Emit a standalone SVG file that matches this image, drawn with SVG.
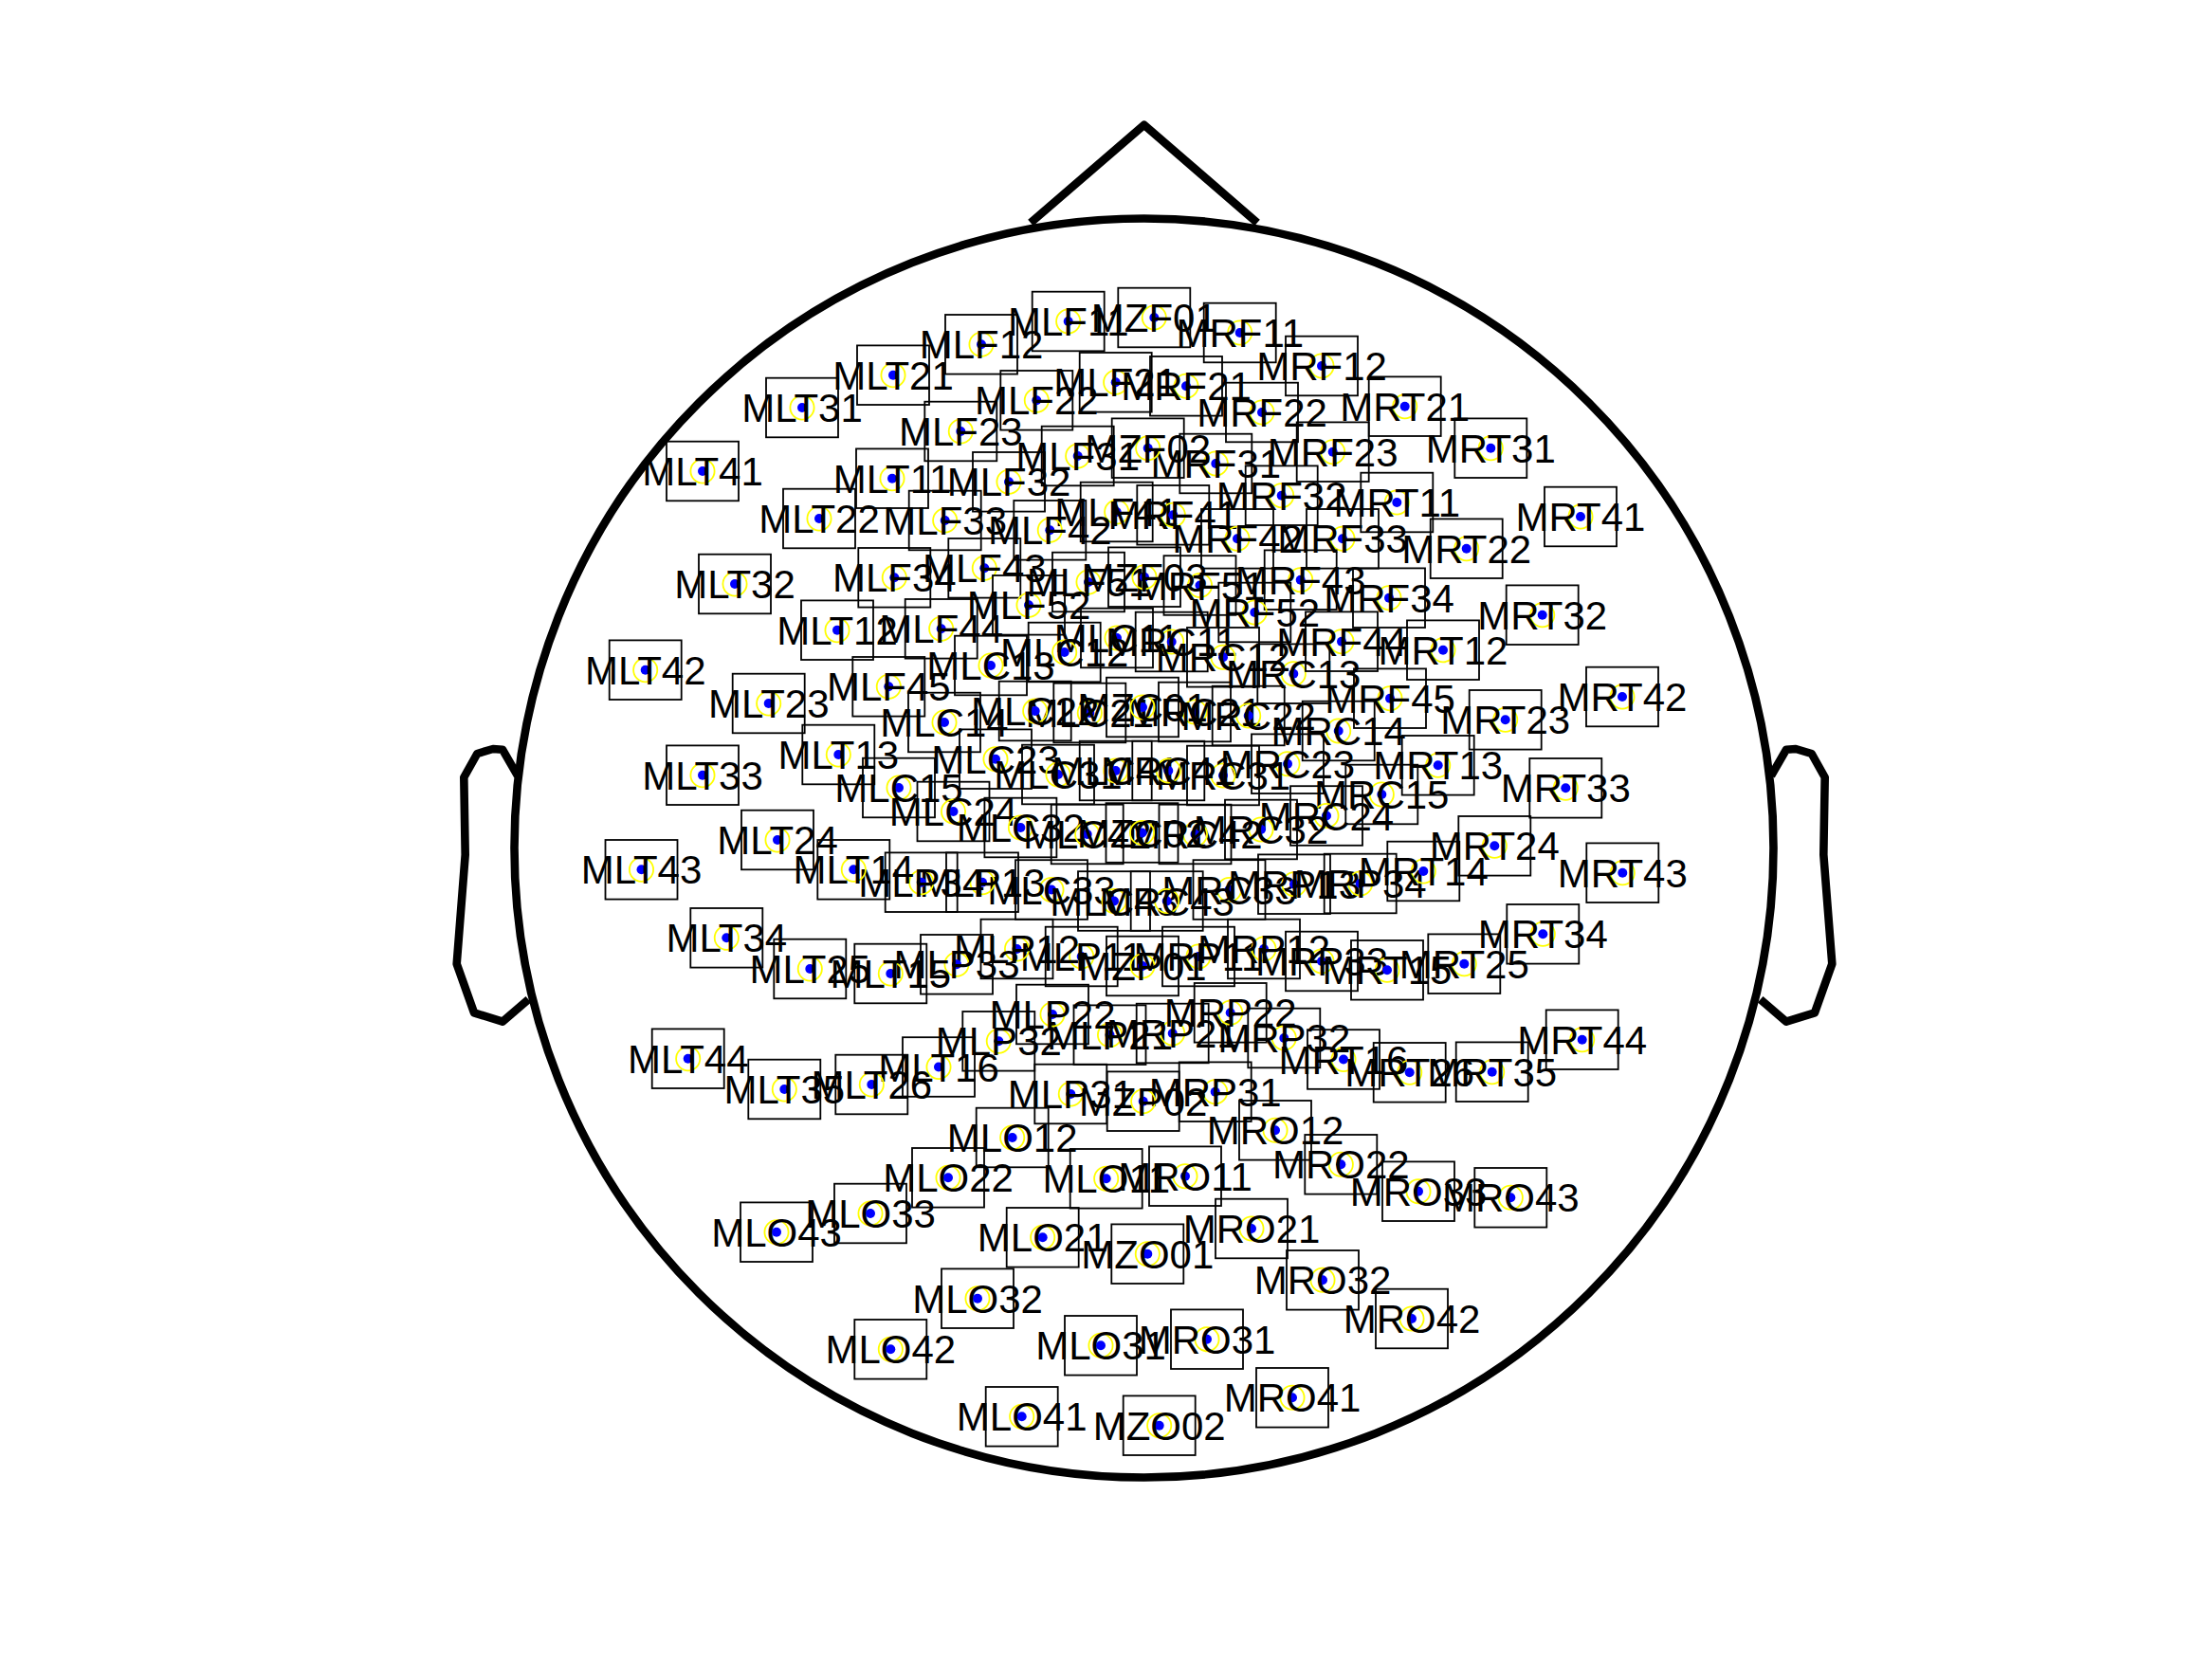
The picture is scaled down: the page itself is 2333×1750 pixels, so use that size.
<svg xmlns="http://www.w3.org/2000/svg" xmlns:xlink="http://www.w3.org/1999/xlink" width="2333" height="1750" viewBox="0 0 2333 1750">
<style>
.bg{fill:#fff}
.o{fill:none;stroke:#000;stroke-width:8.6;stroke-linejoin:round}
.b{fill:none;stroke:#000;stroke-width:1.8}
.r{fill:none;stroke:#ff0;stroke-width:1.8}
.d{fill:#00f}
text{font-family:"Liberation Sans",Arial,sans-serif;font-size:42px;text-anchor:middle;fill:#000}
</style>
<defs><g id="s"><rect class="b" x="-38" y="-31.3" width="76" height="62.6"/><circle class="r" r="12.6"/><circle class="d" r="5"/></g></defs>
<rect class="bg" width="2333" height="1750"/>
<g id="connectors"></g>
<g id="outline">
<circle class="o" cx="1206.5" cy="894.5" r="664"/>
<polyline class="o" points="1087,235 1206.7,131.7 1326,235"/>
<polyline class="o" points="546,818.3 530,790.7 520,790 503.3,795 489.3,820 490.7,901.7 481.7,1016.7 500,1068.3 530,1077.7 557.3,1054.3"/>
<polyline class="o" points="1868,818.3 1884,790.7 1894,790 1910.7,795 1924.7,820 1923.3,901.7 1932.3,1016.7 1914,1068.3 1884,1077.7 1856.7,1054.3"/>
</g>
<g id="MLC11" transform="translate(1178,673)"><use href="#s"/><text y="15">MLC11</text></g>
<g id="MLC12" transform="translate(1122.7,688)"><use href="#s"/><text y="15">MLC12</text></g>
<g id="MLC13" transform="translate(1045,702)"><use href="#s"/><text y="15">MLC13</text></g>
<g id="MLC14" transform="translate(996,762)"><use href="#s"/><text y="15">MLC14</text></g>
<g id="MLC15" transform="translate(948,831)"><use href="#s"/><text y="15">MLC15</text></g>
<g id="MLC21" transform="translate(1149.3,752)"><use href="#s"/><text y="15">MLC21</text></g>
<g id="MLC22" transform="translate(1091.7,750)"><use href="#s"/><text y="15">MLC22</text></g>
<g id="MLC23" transform="translate(1050,800.7)"><use href="#s"/><text y="15">MLC23</text></g>
<g id="MLC24" transform="translate(1005.5,856)"><use href="#s"/><text y="15">MLC24</text></g>
<g id="MLC31" transform="translate(1116,817)"><use href="#s"/><text y="15">MLC31</text></g>
<g id="MLC32" transform="translate(1076.4,873)"><use href="#s"/><text y="15">MLC32</text></g>
<g id="MLC33" transform="translate(1109,938.5)"><use href="#s"/><text y="15">MLC33</text></g>
<g id="MLC41" transform="translate(1176.7,813)"><use href="#s"/><text y="15">MLC41</text></g>
<g id="MLC42" transform="translate(1146.7,880)"><use href="#s"/><text y="15">MLC42</text></g>
<g id="MLC43" transform="translate(1175,950.5)"><use href="#s"/><text y="15">MLC43</text></g>
<g id="MLF11" transform="translate(1126.7,339)"><use href="#s"/><text y="15">MLF11</text></g>
<g id="MLF12" transform="translate(1035,363.3)"><use href="#s"/><text y="15">MLF12</text></g>
<g id="MLF21" transform="translate(1176.7,403.3)"><use href="#s"/><text y="15">MLF21</text></g>
<g id="MLF22" transform="translate(1093.3,422.3)"><use href="#s"/><text y="15">MLF22</text></g>
<g id="MLF23" transform="translate(1013.3,455)"><use href="#s"/><text y="15">MLF23</text></g>
<g id="MLF31" transform="translate(1136.7,481)"><use href="#s"/><text y="15">MLF31</text></g>
<g id="MLF32" transform="translate(1064,508.3)"><use href="#s"/><text y="15">MLF32</text></g>
<g id="MLF33" transform="translate(996.7,549)"><use href="#s"/><text y="15">MLF33</text></g>
<g id="MLF34" transform="translate(943.3,609.3)"><use href="#s"/><text y="15">MLF34</text></g>
<g id="MLF41" transform="translate(1177.7,540)"><use href="#s"/><text y="15">MLF41</text></g>
<g id="MLF42" transform="translate(1107.3,559.3)"><use href="#s"/><text y="15">MLF42</text></g>
<g id="MLF43" transform="translate(1038.3,599.3)"><use href="#s"/><text y="15">MLF43</text></g>
<g id="MLF44" transform="translate(992.7,663.3)"><use href="#s"/><text y="15">MLF44</text></g>
<g id="MLF45" transform="translate(937.3,724.3)"><use href="#s"/><text y="15">MLF45</text></g>
<g id="MLF51" transform="translate(1148,614)"><use href="#s"/><text y="15">MLF51</text></g>
<g id="MLF52" transform="translate(1085,638.3)"><use href="#s"/><text y="15">MLF52</text></g>
<g id="MLO11" transform="translate(1166.7,1243.3)"><use href="#s"/><text y="15">MLO11</text></g>
<g id="MLO12" transform="translate(1067.7,1200)"><use href="#s"/><text y="15">MLO12</text></g>
<g id="MLO21" transform="translate(1099.7,1305.3)"><use href="#s"/><text y="15">MLO21</text></g>
<g id="MLO22" transform="translate(1000,1242.3)"><use href="#s"/><text y="15">MLO22</text></g>
<g id="MLO31" transform="translate(1161,1419.3)"><use href="#s"/><text y="15">MLO31</text></g>
<g id="MLO32" transform="translate(1031,1369.7)"><use href="#s"/><text y="15">MLO32</text></g>
<g id="MLO33" transform="translate(918,1280)"><use href="#s"/><text y="15">MLO33</text></g>
<g id="MLO41" transform="translate(1077.7,1494.3)"><use href="#s"/><text y="15">MLO41</text></g>
<g id="MLO42" transform="translate(939.3,1423.3)"><use href="#s"/><text y="15">MLO42</text></g>
<g id="MLO43" transform="translate(819,1299.7)"><use href="#s"/><text y="15">MLO43</text></g>
<g id="MLP11" transform="translate(1140.7,1009)"><use href="#s"/><text y="15">MLP11</text></g>
<g id="MLP12" transform="translate(1072.5,1001)"><use href="#s"/><text y="15">MLP12</text></g>
<g id="MLP13" transform="translate(1036,930.7)"><use href="#s"/><text y="15">MLP13</text></g>
<g id="MLP21" transform="translate(1170.5,1091.7)"><use href="#s"/><text y="15">MLP21</text></g>
<g id="MLP22" transform="translate(1110,1070)"><use href="#s"/><text y="15">MLP22</text></g>
<g id="MLP31" transform="translate(1129.3,1154)"><use href="#s"/><text y="15">MLP31</text></g>
<g id="MLP32" transform="translate(1053.3,1098.3)"><use href="#s"/><text y="15">MLP32</text></g>
<g id="MLP33" transform="translate(1009,1017.3)"><use href="#s"/><text y="15">MLP33</text></g>
<g id="MLP34" transform="translate(971.7,930.7)"><use href="#s"/><text y="15">MLP34</text></g>
<g id="MLT11" transform="translate(941,504.7)"><use href="#s"/><text y="15">MLT11</text></g>
<g id="MLT12" transform="translate(883,664.7)"><use href="#s"/><text y="15">MLT12</text></g>
<g id="MLT13" transform="translate(884.3,796)"><use href="#s"/><text y="15">MLT13</text></g>
<g id="MLT14" transform="translate(900.3,917.3)"><use href="#s"/><text y="15">MLT14</text></g>
<g id="MLT15" transform="translate(939.3,1027)"><use href="#s"/><text y="15">MLT15</text></g>
<g id="MLT16" transform="translate(990,1125.5)"><use href="#s"/><text y="15">MLT16</text></g>
<g id="MLT21" transform="translate(942,395.7)"><use href="#s"/><text y="15">MLT21</text></g>
<g id="MLT22" transform="translate(864,547)"><use href="#s"/><text y="15">MLT22</text></g>
<g id="MLT23" transform="translate(810.7,742)"><use href="#s"/><text y="15">MLT23</text></g>
<g id="MLT24" transform="translate(820,886)"><use href="#s"/><text y="15">MLT24</text></g>
<g id="MLT25" transform="translate(854.3,1022)"><use href="#s"/><text y="15">MLT25</text></g>
<g id="MLT26" transform="translate(919.3,1144)"><use href="#s"/><text y="15">MLT26</text></g>
<g id="MLT31" transform="translate(846,430)"><use href="#s"/><text y="15">MLT31</text></g>
<g id="MLT32" transform="translate(775,616)"><use href="#s"/><text y="15">MLT32</text></g>
<g id="MLT33" transform="translate(741,817.7)"><use href="#s"/><text y="15">MLT33</text></g>
<g id="MLT34" transform="translate(766.3,989.3)"><use href="#s"/><text y="15">MLT34</text></g>
<g id="MLT35" transform="translate(827.3,1149)"><use href="#s"/><text y="15">MLT35</text></g>
<g id="MLT41" transform="translate(741,497)"><use href="#s"/><text y="15">MLT41</text></g>
<g id="MLT42" transform="translate(680.7,706.7)"><use href="#s"/><text y="15">MLT42</text></g>
<g id="MLT43" transform="translate(676.5,917.3)"><use href="#s"/><text y="15">MLT43</text></g>
<g id="MLT44" transform="translate(725.7,1116.7)"><use href="#s"/><text y="15">MLT44</text></g>
<g id="MRC11" transform="translate(1235.7,677)"><use href="#s"/><text y="15">MRC11</text></g>
<g id="MRC12" transform="translate(1290,693.3)"><use href="#s"/><text y="15">MRC12</text></g>
<g id="MRC13" transform="translate(1364.3,710.7)"><use href="#s"/><text y="15">MRC13</text></g>
<g id="MRC14" transform="translate(1411.7,771)"><use href="#s"/><text y="15">MRC14</text></g>
<g id="MRC15" transform="translate(1457.3,838)"><use href="#s"/><text y="15">MRC15</text></g>
<g id="MRC21" transform="translate(1260,751)"><use href="#s"/><text y="15">MRC21</text></g>
<g id="MRC22" transform="translate(1316.7,755)"><use href="#s"/><text y="15">MRC22</text></g>
<g id="MRC23" transform="translate(1358,805.7)"><use href="#s"/><text y="15">MRC23</text></g>
<g id="MRC24" transform="translate(1399,860.5)"><use href="#s"/><text y="15">MRC24</text></g>
<g id="MRC31" transform="translate(1290,818)"><use href="#s"/><text y="15">MRC31</text></g>
<g id="MRC32" transform="translate(1330,875)"><use href="#s"/><text y="15">MRC32</text></g>
<g id="MRC33" transform="translate(1296.5,938.5)"><use href="#s"/><text y="15">MRC33</text></g>
<g id="MRC41" transform="translate(1232.3,813)"><use href="#s"/><text y="15">MRC41</text></g>
<g id="MRC42" transform="translate(1260.5,880)"><use href="#s"/><text y="15">MRC42</text></g>
<g id="MRC43" transform="translate(1230.7,950.5)"><use href="#s"/><text y="15">MRC43</text></g>
<g id="MRF11" transform="translate(1307.7,351)"><use href="#s"/><text y="15">MRF11</text></g>
<g id="MRF12" transform="translate(1394,386)"><use href="#s"/><text y="15">MRF12</text></g>
<g id="MRF21" transform="translate(1251,407.3)"><use href="#s"/><text y="15">MRF21</text></g>
<g id="MRF22" transform="translate(1331,435)"><use href="#s"/><text y="15">MRF22</text></g>
<g id="MRF23" transform="translate(1405.7,476.7)"><use href="#s"/><text y="15">MRF23</text></g>
<g id="MRF31" transform="translate(1282.3,489)"><use href="#s"/><text y="15">MRF31</text></g>
<g id="MRF32" transform="translate(1351.7,522.7)"><use href="#s"/><text y="15">MRF32</text></g>
<g id="MRF33" transform="translate(1416,568.3)"><use href="#s"/><text y="15">MRF33</text></g>
<g id="MRF34" transform="translate(1465,630.7)"><use href="#s"/><text y="15">MRF34</text></g>
<g id="MRF41" transform="translate(1237.3,543.3)"><use href="#s"/><text y="15">MRF41</text></g>
<g id="MRF42" transform="translate(1305,568.3)"><use href="#s"/><text y="15">MRF42</text></g>
<g id="MRF43" transform="translate(1371.7,611.7)"><use href="#s"/><text y="15">MRF43</text></g>
<g id="MRF44" transform="translate(1415,676.7)"><use href="#s"/><text y="15">MRF44</text></g>
<g id="MRF45" transform="translate(1466,736.7)"><use href="#s"/><text y="15">MRF45</text></g>
<g id="MRF51" transform="translate(1265.5,617.5)"><use href="#s"/><text y="15">MRF51</text></g>
<g id="MRF52" transform="translate(1323.3,646)"><use href="#s"/><text y="15">MRF52</text></g>
<g id="MRO11" transform="translate(1250,1240.7)"><use href="#s"/><text y="15">MRO11</text></g>
<g id="MRO12" transform="translate(1345,1192.3)"><use href="#s"/><text y="15">MRO12</text></g>
<g id="MRO21" transform="translate(1320,1296)"><use href="#s"/><text y="15">MRO21</text></g>
<g id="MRO22" transform="translate(1414.3,1228.3)"><use href="#s"/><text y="15">MRO22</text></g>
<g id="MRO31" transform="translate(1273,1412.7)"><use href="#s"/><text y="15">MRO31</text></g>
<g id="MRO32" transform="translate(1395,1350.3)"><use href="#s"/><text y="15">MRO32</text></g>
<g id="MRO33" transform="translate(1496,1256.7)"><use href="#s"/><text y="15">MRO33</text></g>
<g id="MRO41" transform="translate(1363,1474.3)"><use href="#s"/><text y="15">MRO41</text></g>
<g id="MRO42" transform="translate(1489,1391)"><use href="#s"/><text y="15">MRO42</text></g>
<g id="MRO43" transform="translate(1593.3,1263.3)"><use href="#s"/><text y="15">MRO43</text></g>
<g id="MRP11" transform="translate(1264,1009)"><use href="#s"/><text y="15">MRP11</text></g>
<g id="MRP12" transform="translate(1333,1001)"><use href="#s"/><text y="15">MRP12</text></g>
<g id="MRP13" transform="translate(1365,932.7)"><use href="#s"/><text y="15">MRP13</text></g>
<g id="MRP21" transform="translate(1236.7,1090)"><use href="#s"/><text y="15">MRP21</text></g>
<g id="MRP22" transform="translate(1297.7,1068.3)"><use href="#s"/><text y="15">MRP22</text></g>
<g id="MRP31" transform="translate(1281.7,1151.7)"><use href="#s"/><text y="15">MRP31</text></g>
<g id="MRP32" transform="translate(1354.3,1095)"><use href="#s"/><text y="15">MRP32</text></g>
<g id="MRP33" transform="translate(1394,1014)"><use href="#s"/><text y="15">MRP33</text></g>
<g id="MRP34" transform="translate(1434.7,932)"><use href="#s"/><text y="15">MRP34</text></g>
<g id="MRT11" transform="translate(1473.3,530)"><use href="#s"/><text y="15">MRT11</text></g>
<g id="MRT12" transform="translate(1522,685.7)"><use href="#s"/><text y="15">MRT12</text></g>
<g id="MRT13" transform="translate(1516.7,807.3)"><use href="#s"/><text y="15">MRT13</text></g>
<g id="MRT14" transform="translate(1501.3,919)"><use href="#s"/><text y="15">MRT14</text></g>
<g id="MRT15" transform="translate(1463,1023.3)"><use href="#s"/><text y="15">MRT15</text></g>
<g id="MRT16" transform="translate(1417,1117.5)"><use href="#s"/><text y="15">MRT16</text></g>
<g id="MRT21" transform="translate(1481.7,428.7)"><use href="#s"/><text y="15">MRT21</text></g>
<g id="MRT22" transform="translate(1546.7,578.7)"><use href="#s"/><text y="15">MRT22</text></g>
<g id="MRT23" transform="translate(1587.7,759.3)"><use href="#s"/><text y="15">MRT23</text></g>
<g id="MRT24" transform="translate(1576.3,892.3)"><use href="#s"/><text y="15">MRT24</text></g>
<g id="MRT25" transform="translate(1544.3,1016.7)"><use href="#s"/><text y="15">MRT25</text></g>
<g id="MRT26" transform="translate(1486.7,1131.3)"><use href="#s"/><text y="15">MRT26</text></g>
<g id="MRT31" transform="translate(1572.3,472.7)"><use href="#s"/><text y="15">MRT31</text></g>
<g id="MRT32" transform="translate(1626.7,648.7)"><use href="#s"/><text y="15">MRT32</text></g>
<g id="MRT33" transform="translate(1651.3,831.3)"><use href="#s"/><text y="15">MRT33</text></g>
<g id="MRT34" transform="translate(1627.3,985.3)"><use href="#s"/><text y="15">MRT34</text></g>
<g id="MRT35" transform="translate(1573.7,1130.7)"><use href="#s"/><text y="15">MRT35</text></g>
<g id="MRT41" transform="translate(1667,545)"><use href="#s"/><text y="15">MRT41</text></g>
<g id="MRT42" transform="translate(1711,735)"><use href="#s"/><text y="15">MRT42</text></g>
<g id="MRT43" transform="translate(1711.3,920.7)"><use href="#s"/><text y="15">MRT43</text></g>
<g id="MRT44" transform="translate(1668.7,1096.7)"><use href="#s"/><text y="15">MRT44</text></g>
<g id="MZC01" transform="translate(1205,746)"><use href="#s"/><text y="15">MZC01</text></g>
<g id="MZC02" transform="translate(1204.5,878.5)"><use href="#s"/><text y="15">MZC02</text></g>
<g id="MZF01" transform="translate(1217.3,335)"><use href="#s"/><text y="15">MZF01</text></g>
<g id="MZF02" transform="translate(1210.7,472.7)"><use href="#s"/><text y="15">MZF02</text></g>
<g id="MZF03" transform="translate(1207,608.7)"><use href="#s"/><text y="15">MZF03</text></g>
<g id="MZO01" transform="translate(1210.3,1322.7)"><use href="#s"/><text y="15">MZO01</text></g>
<g id="MZO02" transform="translate(1222.7,1503.7)"><use href="#s"/><text y="15">MZO02</text></g>
<g id="MZP01" transform="translate(1205,1019)"><use href="#s"/><text y="15">MZP01</text></g>
<g id="MZP02" transform="translate(1205.7,1161.7)"><use href="#s"/><text y="15">MZP02</text></g>
</svg>
